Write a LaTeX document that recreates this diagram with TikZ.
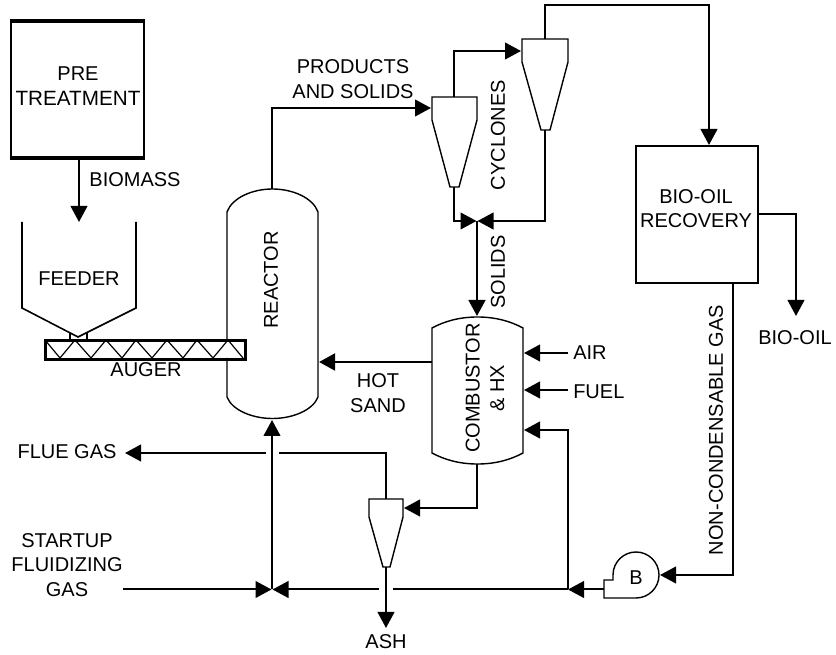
\documentclass[tikz,border=0pt]{standalone}
\usepackage{fontspec}
\setmainfont{Liberation Sans}
\usetikzlibrary{arrows.meta}
\begin{document}
\begin{tikzpicture}[x=0.75pt,y=-0.75pt,
  conn/.style={line width=1.5pt,line join=miter},
  flow/.style={conn,-{Triangle[length=12pt,width=12.5pt]}},
  vessel/.style={line width=1.05pt,line join=miter},
  boxed/.style={draw,line width=1.9pt,inner sep=0pt,align=center},
  lab/.style={font=\fontsize{15pt}{18.4pt}\selectfont,inner sep=0pt,align=center},
  vlab/.style={lab,rotate=90}]
\useasboundingbox (0,0) rectangle (836,655);
\fill[white] (0,0) rectangle (836,655);
% boxes
\node[boxed,minimum width=99.75pt,minimum height=101.25pt] (pre) at (77.5,89.5) {};
\draw[line width=2.3pt] (pre.north west) -- (pre.north east);
\draw[line width=2.3pt] (pre.south west) -- (pre.south east);
\node[boxed,minimum width=91.5pt,minimum height=102.75pt] (rec) at (697,214.5) {};
% labels
\node[lab] (tpre) at (78,86) {PRE\\\fontsize{15.5pt}{18.4pt}\selectfont TREATMENT};
\node[lab] (tbio) at (135,180) {BIOMASS};
\node[lab] (tfeed) at (79,279) {FEEDER};
\node[lab] (taug) at (146,370) {AUGER};
\node[vlab] (trea) at (271,280) {REACTOR};
\node[lab] (tprod) at (353,79) {PRODUCTS\\AND SOLIDS};
\node[vlab] (tcyc) at (498,135) {CYCLONES};
\node[vlab] (tsol) at (498,272) {SOLIDS};
\node[vlab] (tcom) at (485,388) {COMBUSTOR\\\& HX};
\node[lab] (thot) at (378,393) {HOT\\SAND};
\node[lab,anchor=west] (tair) at (573,353) {AIR};
\node[lab,anchor=west] (tfuel) at (573,392) {FUEL};
\node[lab] (tflue) at (67,452) {FLUE GAS};
\node[lab] (tstart) at (67,565) {STARTUP\\FLUIDIZING\\GAS};
\node[lab] (tash) at (386,642) {ASH};
\node[lab] (trecov) at (696,208.5) {BIO-OIL\\RECOVERY};
\node[lab] (toil) at (795,338) {BIO-OIL};
\node[vlab] (tnon) at (716,430) {NON-CONDENSABLE GAS};
\node[lab] (tb) at (636,578) {B};
% feeder
\draw[vessel,line width=1.2pt] (22,222) -- (22,308) -- (78,337) -- (136,308) -- (136,222);
\draw[vessel] (70,339) -- (70,333) (87,339) -- (87,333);
% reactor
\draw[vessel] (227,339) -- (227,212) .. controls (232,198) and (252,189) .. (272.5,189) .. controls (293,189) and (313,198) .. (318,212) -- (318,397) .. controls (313,410) and (293,418.5) .. (272.5,418.5) .. controls (252,418.5) and (232,410) .. (227,397) -- (227,358);
% auger
\node[boxed,minimum width=150pt,minimum height=14.25pt,anchor=north west] (aug) at (44,339) {};
\draw[line width=0.9pt] (45,340) -- (60,358) -- (75,340) -- (91,358) -- (106,340) -- (122,358) -- (136,340) -- (152,358) -- (167,340) -- (183,358) -- (197,340) -- (213,358) -- (228,340) -- (243,358);
% combustor
\draw[vessel] (432,328) .. controls (445,321) and (460,317) .. (477.5,317) .. controls (495,317) and (510,321) .. (523,328) -- (523,453) .. controls (510,460) and (495,464) .. (477.5,464) .. controls (460,464) and (445,460) .. (432,453) -- cycle;
% cyclones
\draw[vessel] (432,97) -- (477,97) -- (477,120) -- (459,187) -- (450,187) -- (432,120) -- cycle;
\draw[vessel] (522,39) -- (568,39) -- (568,62) -- (550,130) -- (541,130) -- (522,62) -- cycle;
\draw[vessel] (369,499) -- (403,499) -- (403,517) -- (390,567) -- (383,567) -- (369,517) -- cycle;
% blower
\draw[vessel] (604,598) -- (604,580) -- (613,580) -- (613,575) .. controls (613,562.3) and (623.3,552) .. (636,552) .. controls (648.7,552) and (659,562.3) .. (659,575) .. controls (659,587.7) and (648.7,598) .. (636,598) -- cycle;
% coordinates
\coordinate (c1top) at (454,97);
\coordinate (c1bot) at (454,187);
\coordinate (c1in) at (431,108);
\coordinate (c2top) at (545,39);
\coordinate (c2bot) at (545,130);
\coordinate (c2in) at (521,51);
\coordinate (c3top) at (386,499);
\coordinate (c3bot) at (386,567);
\coordinate (c3in) at (404,508);
\coordinate (reatop) at (272,189);
\coordinate (reabot) at (272,420);
\coordinate (reasand) at (319,362);
\coordinate (comtop) at (477,316);
\coordinate (combot) at (477,464);
\coordinate (comsand) at (432,362);
\coordinate (comair) at (524,353);
\coordinate (comfuel) at (524,390);
\coordinate (comgas) at (524,430);
\coordinate (feedin) at (79,222);
\coordinate (j1) at (476.5,221);
\coordinate (j1r) at (477.5,221);
\coordinate (j1c) at (477,221);
\coordinate (j2) at (271.5,589.5);
\coordinate (j2r) at (272.5,589.5);
\coordinate (j2c) at (272,589.5);
\coordinate (j3) at (568,589.5);
\coordinate (blout) at (604,589.5);
\coordinate (blin) at (660,575);
\coordinate (ashout) at (386,628);
\coordinate (recin) at (709,145);
\coordinate (recoil) at (758,214);
\coordinate (recgas) at (733,283);
\coordinate (oilout) at (796,316);
\coordinate (flueout) at (125,453);
\coordinate (c2up) at (545,5);
\coordinate (airin) at (568,353);
\coordinate (fuelin) at (568,390);
\coordinate (startin) at (123,589.5);
\coordinate (gapAr) at (393,589.5);
\coordinate (gapAl) at (379,589.5);
\coordinate (gapBr) at (279,453);
\coordinate (gapBl) at (266,453);
% connectors
\draw[flow] (pre.south -| feedin) -- (feedin);
\draw[flow] (reatop) |- (c1in);
\draw[flow] (c1top) |- (c2in);
\draw[flow] (c2top) -- (c2up) -| (recin);
\draw[flow] (c1bot) |- (j1);
\draw[flow] (c2bot) |- (j1r);
\draw[flow,line width=2pt] (j1c) -- (comtop);
\draw[flow] (recoil) -| (oilout);
\draw[flow] (recgas) |- (blin);
\draw[flow] (blout) -- (j3);
\draw[flow,line width=2.2pt] (comsand) -- (reasand);
\draw[flow] (airin) -- (comair);
\draw[flow] (fuelin) -- (comfuel);
\draw[flow] (j3) |- (comgas);
\draw[conn] (j3) -- (gapAr);
\draw[flow] (gapAl) -- (j2r);
\draw[flow] (startin) -- (j2);
\draw[flow] (j2c) -- (reabot);
\draw[flow] (combot) |- (c3in);
\draw[flow] (c3bot) -- (ashout);
\draw[conn] (c3top) |- (gapBr);
\draw[flow] (gapBl) -- (flueout);
\end{tikzpicture}
\end{document}
